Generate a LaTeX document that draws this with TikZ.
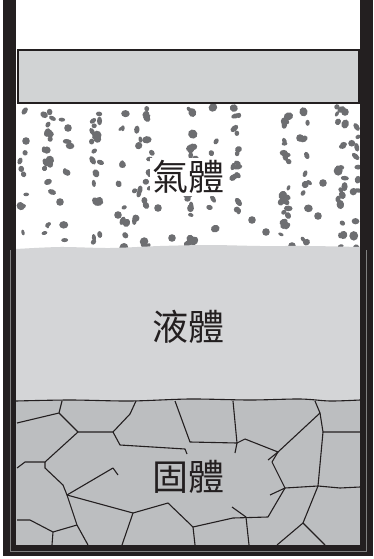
\documentclass[tikz,border=0pt]{standalone}
\usepackage{fontspec}
\usepackage{tikz}
\newfontfamily\cjk{Noto Sans CJK TC}
\definecolor{wallblack}{HTML}{231F20}
\definecolor{pistongray}{HTML}{D1D3D4}
\definecolor{liquidgray}{HTML}{D4D5D7}
\definecolor{solidgray}{HTML}{BCBEC0}
\definecolor{dotgray}{HTML}{6D6E71}
\tikzset{
  crack/.style={wallblack,line width=1.1pt,line join=round},
  phase/.style={font=\cjk\fontsize{36}{40}\selectfont,text=wallblack,inner sep=2pt}
}

\begin{document}
\begin{tikzpicture}[x=1pt,y=-1pt]
    \useasboundingbox (0,0) rectangle (374,559);
    \fill[white] (0,0) rectangle (374,559);
    % gas with drifting blobs
    \begin{scope}
      \clip (16,104) rectangle (360,250);
      \pgfmathsetseed{42}
      \foreach \cx/\n in {24/9,48/20,66/8,96/20,122/11,136/8,148/18,191/18,
                          212/6,236/16,285/22,306/11,341/22,356/13} {
        \foreach \k in {1,...,\n} {
          \pgfmathsetmacro\px{\cx+4.5*rand}
          \pgfmathsetmacro\py{106+rnd*142}
          \pgfmathsetmacro\ra{2.6+2.2*rnd}
          \pgfmathsetmacro\rb{\ra*(0.55+0.4*rnd)}
          \pgfmathsetmacro\ang{180*rnd}
          \fill[dotgray,rotate around={\ang:(\px,\py)}] (\px,\py) ellipse ({\ra pt} and {\rb pt});
        }
      }
      \foreach \px/\py in {26/141,68/128,60/202,118/215,158/208,172/238,252/220,
                           266/232,292/246,318/216,323/183,300/138,345/112} {
        \fill[dotgray] (\px,\py) circle (3.8pt);
      }
    \end{scope}
    % liquid
    \fill[liquidgray] plot[smooth] coordinates {(16,249) (60,247) (110,248) (160,246)
        (210,245) (260,246) (310,246) (360,247)} -- (360,402) -- (16,402) -- cycle;
    % solid grains
    \fill[solidgray] plot[smooth] coordinates {(16,401) (70,400) (130,401) (190,399)
        (250,400) (300,399) (330,401) (360,400)} -- (360,546) -- (16,546) -- cycle;
    \draw[crack] plot[smooth] coordinates {(16,401) (70,400) (130,401) (190,399)
        (250,400) (300,399) (330,401) (360,400)};
    \draw[crack] (17,423) -- (59,413) -- (62,401);
    \draw[crack] (59,413) -- (78,432) -- (113,432) -- (130,414) -- (136,401);
    \draw[crack] (113,432) -- (120,445) -- (185,449) -- (187,454);
    \draw[crack] (175,401) -- (190,442) -- (237,443) -- (233,401);
    \draw[crack] (237,443) -- (235,453);
    \draw[crack] (237,443) -- (245,439) -- (278,452) -- (268,460);
    \draw[crack] (78,432) -- (45,462) -- (25,462) -- (17,468);
    \draw[crack] (45,462) -- (45,468) -- (63,485) -- (67,495);
    \draw[crack] (67,495) -- (113,468) -- (118,475);
    \draw[crack] (67,495) -- (133,513) -- (168,503) -- (193,527) -- (233,518)
        -- (268,517) -- (285,488) -- (272,462) -- (278,452);
    \draw[crack] (285,488) -- (270,495);
    \draw[crack] (67,495) -- (77,525) -- (88,545);
    \draw[crack] (77,525) -- (53,532) -- (52,545);
    \draw[crack] (53,532) -- (30,520) -- (17,520);
    \draw[crack] (133,513) -- (122,545);
    \draw[crack] (193,527) -- (195,545);
    \draw[crack] (232,507) -- (246,517) -- (249,545);
    \draw[crack] (278,452) -- (320,413) -- (315,401);
    \draw[crack] (320,413) -- (323,432) -- (360,432);
    \draw[crack] (323,432) -- (318,486) -- (303,523) -- (277,545);
    \draw[crack] (285,488) -- (318,486) -- (340,488) -- (360,487);
    \draw[crack] (303,523) -- (313,533) -- (325,545);
    % piston
    \filldraw[fill=pistongray,draw=wallblack,line width=2pt] (18,50) rectangle (359,103);
    % container walls
    \fill[wallblack] (3,0) rectangle (16,556);
    \fill[wallblack] (360,0) rectangle (373,556);
    \fill[wallblack] (3,545) rectangle (373,556);
    \draw[gray,line width=0.5pt] (10,250) -- (10,551) -- (366,551) -- (366,250);
    % labels
    \node[phase,fill=white] (gas) at (188,177) {氣體};
    \node[phase] (liquid) at (188,327) {液體};
    \node[phase] (solid) at (188,477) {固體};
\end{tikzpicture}
\end{document}
